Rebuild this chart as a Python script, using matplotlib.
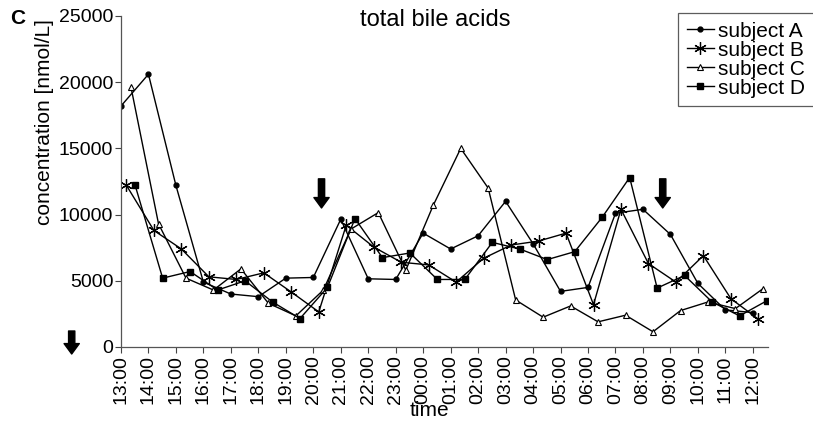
import matplotlib
matplotlib.use("Agg")
import matplotlib.pyplot as plt

plt.rcParams["font.family"] = ["Liberation Sans", "DejaVu Sans"]

# hourly sampling, 13:00 -> 12:00 next day
hours = ["13:00", "14:00", "15:00", "16:00", "17:00", "18:00", "19:00", "20:00",
         "21:00", "22:00", "23:00", "00:00", "01:00", "02:00", "03:00", "04:00",
         "05:00", "06:00", "07:00", "08:00", "09:00", "10:00", "11:00", "12:00"]

# sampling delay after the full hour (minutes), per subject
delay_a, delay_b, delay_c, delay_d = 0, 12, 22, 31

subj_a = [18200, 20600, 12200, 4900, 4000, 3800, 5200, 5250, 9650, 5150, 5100, 8600,
          7400, 8400, 11000, 7800, 4200, 4500, 10100, 10400, 8500, 4800, 2800, 2600]
subj_b = [12200, 8800, 7400, 5300, 5100, 5600, 4150, 2650, 9200, 7550, 6400, 6200,
          4900, 6700, 7700, 8000, 8600, 3200, 10400, 6300, 4900, 6900, 3650, 2100]
subj_c = [19600, 9300, 5200, 4300, 5900, 3300, 2350, 4300, 8900, 10150, 5800, 10700,
          15000, 12000, 3550, 2250, 3100, 1900, 2400, 1150, 2750, 3400, 2900, 4400]
subj_d = [12200, 5200, 5700, 4300, 5000, 3400, 2150, 4500, 9700, 6750, 7100, 5100,
          5100, 7900, 7400, 6600, 7200, 9800, 12800, 4450, 5400, 3400, 2350, 3500]

# meal / intervention arrows (hours after 13:00)
arrow_times = [7.3, 19.72]

fig = plt.figure(figsize=(8.13, 4.23), dpi=100)
ax = fig.add_axes([0.1488, 0.1797, 0.7958, 0.7825])

idx = list(range(len(hours)))
ax.plot([i + delay_a / 60 for i in idx], subj_a, color="k", lw=1.0, marker="o", ms=3.5,
        label="subject A")
ax.plot([i + delay_b / 60 for i in idx], subj_b, color="k", lw=1.0, marker=(6, 2, 0), ms=9,
        mew=0.9, label="subject B")
ax.plot([i + delay_c / 60 for i in idx], subj_c, color="k", lw=1.0, marker="^", ms=5,
        mfc="white", mew=0.8, label="subject C")
ax.plot([i + delay_d / 60 for i in idx], subj_d, color="k", lw=1.0, marker="s", ms=4,
        label="subject D")

ax.set_xlim(0, 23.55)
ax.set_ylim(0, 25000)
ax.set_xticks(idx)
ax.set_xticklabels(hours, rotation=90, fontsize=14)
ax.set_yticks([0, 5000, 10000, 15000, 20000, 25000])
ax.tick_params(axis="y", labelsize=14, length=4, width=0.8, colors="#444",
               labelcolor="black", pad=1.5)
ax.tick_params(axis="x", length=4, width=0.8, colors="#444", labelcolor="black", pad=2)
for s in ("top", "right"):
    ax.spines[s].set_visible(False)
for s in ("left", "bottom"):
    ax.spines[s].set_color("#555")
    ax.spines[s].set_linewidth(0.9)

arrow_style = "simple,head_length=0.75,head_width=1.1,tail_width=0.45"
for t in arrow_times:
    ax.annotate("", xy=(t, 10500), xytext=(t, 12700),
                arrowprops=dict(arrowstyle=arrow_style, color="k", mutation_scale=10,
                                shrinkA=0, shrinkB=0))
# left arrow near the zero line, in figure coordinates
ax.annotate("", xy=(71.7 / 813, 1 - 354 / 423), xytext=(71.7 / 813, 1 - 331 / 423),
            xycoords="figure fraction", textcoords="figure fraction",
            arrowprops=dict(arrowstyle=arrow_style, color="k", mutation_scale=10,
                            shrinkA=0, shrinkB=0), annotation_clip=False)

fig.text(435 / 813, 1 - 20 / 423, "total bile acids", ha="center", va="center",
         fontsize=17)
fig.text(10 / 813, 1 - 19 / 423, "C", fontsize=15, fontweight="bold", ha="left",
         va="center")
fig.text(45 / 813, 1 - 122 / 423, "concentration [nmol/L]", rotation=90, ha="center",
         va="center", fontsize=15)
fig.text(429 / 813, 1 - 410 / 423, "time", ha="center", va="center", fontsize=15)

leg = ax.legend(loc="upper left", bbox_to_anchor=(678 / 813, 1 - 13 / 423),
                bbox_transform=fig.transFigure, fontsize=15, frameon=True,
                fancybox=False, handlelength=1.3, handletextpad=0.2,
                labelspacing=0.0, borderpad=0.42, borderaxespad=0)
leg.get_frame().set_edgecolor("#333")
leg.get_frame().set_linewidth(0.9)

fig.savefig("out.png", dpi=100)
